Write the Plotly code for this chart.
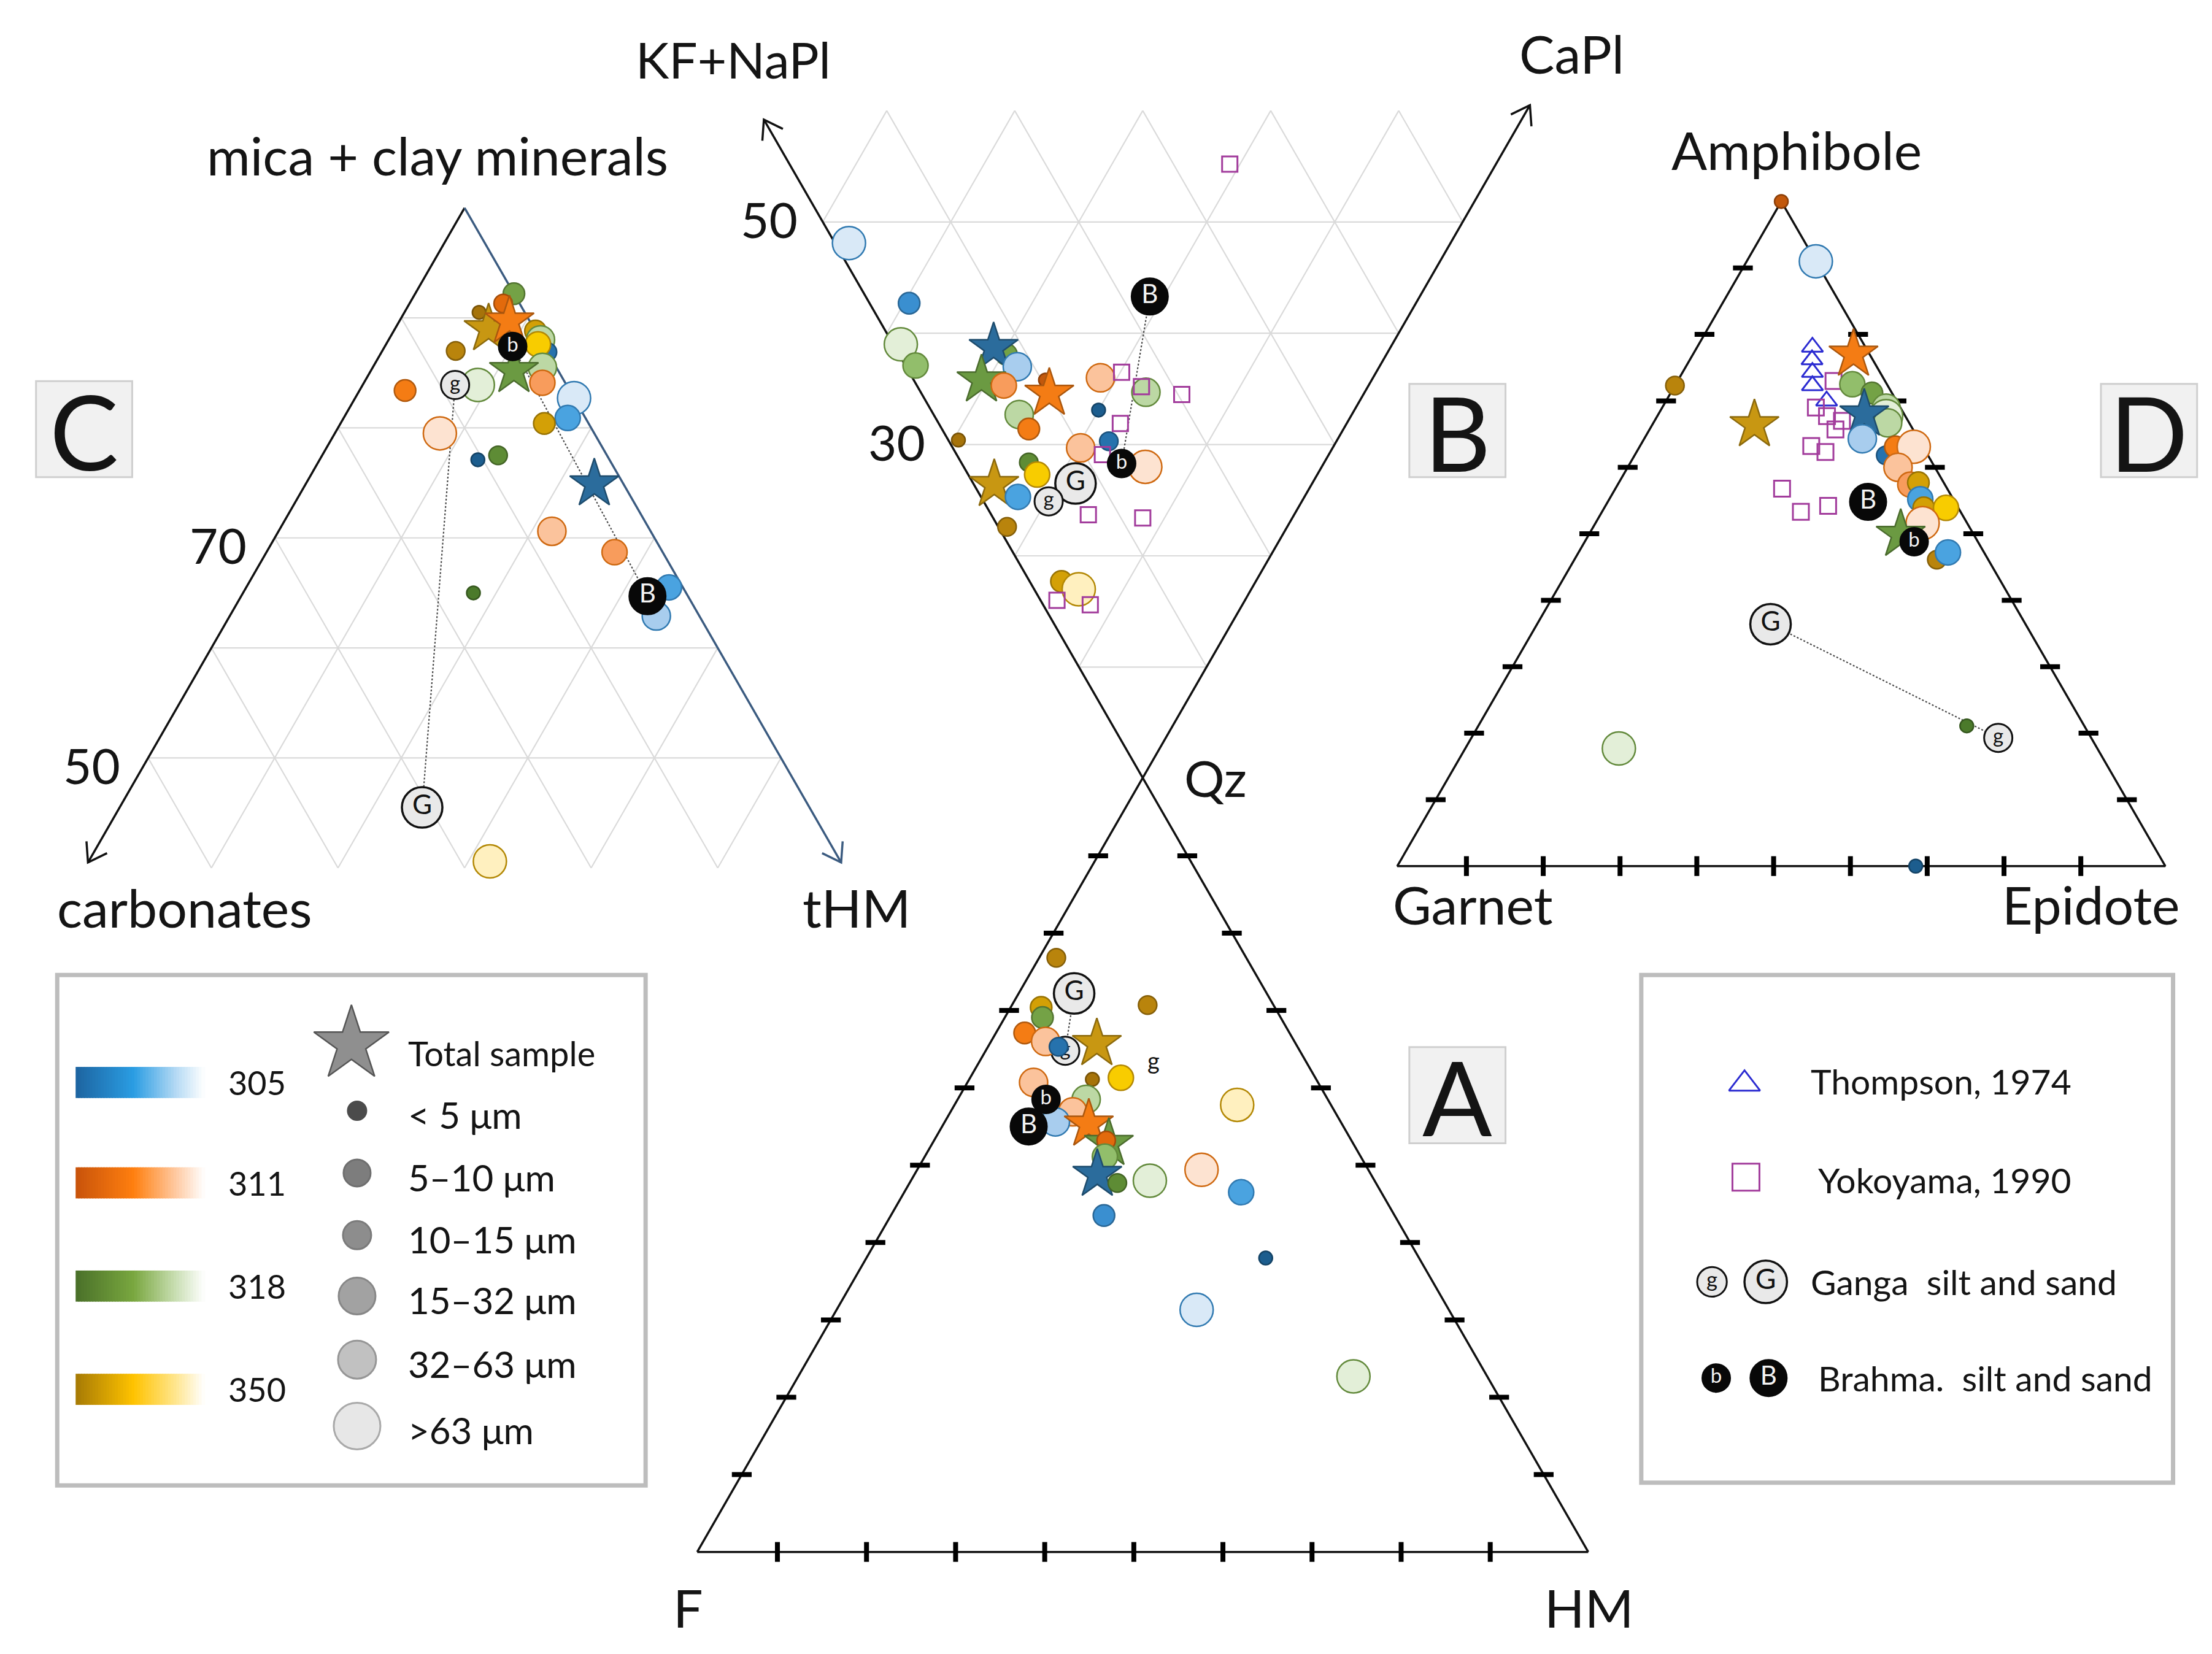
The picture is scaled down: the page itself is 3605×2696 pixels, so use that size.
import math
import plotly.graph_objects as go

# ------------------------------------------------------------------ data
# kind = "<sample>-<fraction>"; fraction 0:<5 µm 1:5-10 2:10-15 3:15-32 4:32-63 5:>63 µm ; T = total sample

# Panel C : mica + clay minerals (top) / carbonates (left) / tHM (right), %
C_kind = ["318-2", "350-0", "311-1", "350-T", "311-T", "350-2", "318-4", "305-1",
          "350-3", "318-4", "318-T", "311-3", "350-1", "318-5", "311-2", "311-5",
          "305-0", "318-1", "305-5", "305-3", "350-2", "305-T", "311-4", "311-3",
          "318-0", "305-3", "305-4", "350-5"]
C_mica = [92.2, 90.5, 91.3, 89.0, 89.7, 88.8, 88.0, 86.9, 87.6, 85.5, 85.2, 84.1,
          87.0, 83.9, 83.4, 79.5, 77.1, 77.5, 82.7, 80.9, 80.4, 74.9, 70.6, 68.7,
          65.0, 65.5, 62.9, 40.6]
C_carb = [0.0, 3.6, 1.3, 3.6, 1.6, 0.0, 0.0, 0.0, 0.4, 1.1, 3.5, 1.8,
          7.2, 7.0, 13.0, 12.2, 10.4, 8.6, 0.0, 1.4, 3.5, 2.3, 7.8, 3.8,
          16.8, 1.1, 3.4, 27.7]
C_thm = [7.8, 5.9, 7.4, 7.4, 8.7, 11.2, 12.0, 13.1, 12.0, 13.4, 11.3, 14.1,
         5.8, 9.1, 3.6, 8.3, 12.5, 13.9, 17.3, 17.7, 16.1, 22.8, 21.6, 27.5,
         18.2, 33.4, 33.7, 31.7]
C_lab_kind = ["g", "b", "B", "G"]
C_lab_mica = [83.9, 87.4, 64.7, 45.5]
C_lab_carb = [8.8, 2.5, 3.2, 30.6]
C_lab_thm = [7.3, 10.1, 32.1, 23.9]
C_links = [("g", "G"), ("b", "B")]

# Panel B : Qz (bottom) / KF+NaPl (left) / CaPl (right), %
B_kind = ["305-5", "305-2", "318-5", "318-3", "318-2", "305-T", "305-4", "318-T", "311-3",
          "311-0", "311-T", "311-4", "318-4", "305-0", "318-4", "311-2", "350-0", "311-4",
          "305-1", "311-5", "318-1", "350-3", "350-T", "305-3", "350-1", "350-2", "350-5"]
B_qz = [51.9, 57.3, 61.0, 62.9, 61.9, 61.3, 63.0, 64.2, 64.7, 64.2, 65.4, 64.0, 65.3, 66.9,
        67.3, 68.6, 69.6, 70.3, 69.7, 72.0, 71.6, 72.7, 73.6, 74.7, 77.4, 82.3, 83.0]
B_kf = [47.0, 39.6, 38.4, 36.3, 29.7, 31.0, 28.3, 30.5, 28.5, 25.5, 24.6, 21.3, 17.1, 20.0,
        26.0, 24.6, 29.6, 19.7, 17.8, 13.8, 23.1, 21.9, 24.8, 22.4, 21.9, 15.2, 13.5]
B_ca = [1.1, 3.1, 0.6, 0.8, 8.4, 7.7, 8.7, 5.3, 6.8, 10.3, 10.0, 14.7, 17.6, 13.1,
        6.7, 6.8, 0.8, 10.0, 12.5, 14.2, 5.3, 5.4, 1.6, 2.9, 0.7, 2.5, 3.5]
B_lab_kind = ["B", "b", "G", "g"]
B_lab_qz = [56.7, 71.7, 73.5, 75.1]
B_lab_kf = [21.1, 15.8, 18.5, 19.8]
B_lab_ca = [22.2, 12.5, 8.0, 5.1]
B_links = [("b", "B")]
B_yok_qz = [63.5, 64.8, 65.5, 68.1, 70.9, 76.3, 76.6, 84.0, 84.4, 44.8]
B_yok_kf = [19.9, 17.7, 14.2, 17.7, 17.7, 16.1, 11.7, 14.7, 11.9, 20.8]
B_yok_ca = [16.6, 17.5, 20.3, 14.2, 11.4, 7.6, 11.7, 1.3, 3.7, 34.4]

# Panel A : Qz (top) / F (left) / HM (right), %
A_kind = ["350-1", "350-2", "318-2", "350-1", "311-2", "311-4", "305-1", "350-T", "350-0",
          "350-3", "311-4", "318-4", "311-4", "305-4", "311-T", "318-T", "311-1", "318-3",
          "305-T", "318-1", "318-5", "311-5", "305-3", "350-5", "305-2", "305-0", "305-5", "318-5"]
A_qz = [76.8, 70.4, 69.1, 70.7, 67.1, 66.0, 65.3, 65.7, 61.1, 61.3, 60.7, 58.5, 56.9, 55.6,
        55.3, 52.8, 53.2, 51.1, 48.8, 47.7, 48.0, 49.4, 46.5, 57.8, 43.5, 38.0, 31.3, 22.7]
A_f = [21.3, 26.2, 26.7, 14.1, 29.7, 27.9, 26.8, 22.3, 25.1, 21.8, 31.9, 27.1, 29.4, 32.0,
       28.4, 27.4, 27.5, 28.7, 30.7, 29.0, 25.2, 18.7, 15.7, 10.5, 32.6, 17.2, 28.3, 15.0]
A_hm = [1.9, 3.4, 4.2, 15.2, 3.2, 6.1, 7.9, 12.0, 13.8, 16.9, 7.4, 14.4, 13.7, 12.4,
        16.3, 19.8, 19.3, 20.2, 20.5, 23.3, 26.8, 31.9, 37.8, 31.7, 23.9, 44.8, 40.4, 62.3]
A_under_kind = ["g"]
A_under_qz = [64.8]
A_under_f = [26.3]
A_under_hm = [8.9]
A_lab_kind = ["G", "b", "B"]
A_lab_qz = [72.2, 58.5, 55.0]
A_lab_f = [21.6, 31.6, 35.3]
A_lab_hm = [6.2, 9.9, 9.7]
A_links = [("G", "g")]
A_note_text = ["g"]
A_note_qz = [63.6]
A_note_f = [17.0]
A_note_hm = [19.4]

# Panel D : Amphibole (top) / Garnet (left) / Epidote (right), %
D_kind = ["311-0", "305-5", "350-1", "318-3", "318-2", "318-4", "318-5", "318-4", "305-T",
          "305-4", "311-T", "350-T", "305-1", "311-2", "311-5", "311-4", "311-3", "350-2",
          "305-3", "350-2", "350-3", "311-5", "318-T", "350-1", "305-3", "318-0", "318-5", "305-0"]
D_amp = [100.0, 91.0, 72.3, 72.5, 71.2, 68.9, 67.7, 66.7, 68.0, 64.3, 77.0, 66.4, 61.8, 63.1,
         63.1, 60.0, 57.4, 57.7, 55.2, 53.9, 53.9, 51.6, 49.9, 46.1, 47.2, 21.1, 17.7, 0.0]
D_gt = [0.0, 0.0, 27.7, 4.5, 2.6, 1.9, 2.5, 2.8, 5.2, 7.3, 2.1, 20.3, 5.5, 3.6,
        1.2, 4.8, 4.5, 3.3, 4.3, 4.5, 1.6, 5.8, 9.5, 6.7, 4.7, 15.3, 62.3, 32.5]
D_ep = [0.0, 9.0, 0.0, 23.0, 26.2, 29.2, 29.8, 30.5, 26.8, 28.4, 20.9, 13.3, 32.7, 33.3,
        35.7, 35.2, 38.1, 39.0, 40.5, 41.6, 44.5, 42.6, 40.6, 47.2, 48.1, 63.6, 20.0, 67.5]
D_lab_kind = ["B", "b", "G", "g"]
D_lab_amp = [54.8, 48.8, 36.4, 19.3]
D_lab_gt = [11.3, 8.3, 33.2, 12.1]
D_lab_ep = [33.9, 42.9, 30.4, 68.6]
D_links = [("G", "g")]
D_tho_amp = [78.1, 76.2, 74.3, 72.3, 70.0]
D_tho_gt = [6.9, 7.9, 8.8, 9.8, 9.1]
D_tho_ep = [15.0, 15.9, 16.9, 17.9, 20.9]
D_yok_amp = [73.0, 69.0, 67.7, 67.0, 65.7, 63.2, 62.3, 56.8, 53.3, 54.2]
D_yok_gt = [6.7, 11.0, 10.2, 8.6, 10.1, 14.5, 13.1, 21.5, 20.8, 16.8]
D_yok_ep = [20.3, 20.0, 22.1, 24.4, 24.2, 22.3, 24.6, 21.7, 25.9, 29.0]

# legend content
LEG_SAMPLES = ["305", "311", "318", "350"]
LEG_FRACTIONS = ["< 5 μm", "5–10 μm", "10–15 μm", "15–32 μm", "32–63 μm", ">63 μm"]
LEG_REFS = ["Thompson, 1974", "Yokoyama, 1990", "Ganga\u00a0 silt and sand", "Brahma.\u00a0 silt and sand"]

# ------------------------------------------------------------------ styling
FONT = "Lato, 'Open Sans', 'DejaVu Sans', sans-serif"
INK = "#141414"
W, H = 3605, 2696
XR = 1564.0
YR = H * XR / W          # uniform frame units (1 unit = 2.305 px)

PAL = {
    "305": ["#1c5d8e", "#2672ad", "#3a8fd0", "#4aa3e0", "#a8cdee", "#d9e9f7"],
    "311": ["#c2580c", "#e26a0c", "#f47c14", "#f89c5c", "#fbc39c", "#fde3d1"],
    "318": ["#4b7a2b", "#5e8c35", "#74a246", "#92be6b", "#bcd8a4", "#e3efd8"],
    "350": ["#a6730a", "#b9840c", "#d3a006", "#f8cc00", "#fde07c", "#fff0bf"],
}
STAR = {"305": "#2b6c9c", "311": "#f47c14", "318": "#6b9a42", "350": "#c89712"}
SIZES = [22, 30, 35, 41, 46, 54]
STAR_SIZE = 60
YOK_COL = "#a23c9c"
THO_COL = "#2b2bd1"
GRID_COL = "#dadada"


def hex2rgb(h):
    h = h.lstrip("#")
    return [int(h[i:i + 2], 16) for i in (0, 2, 4)]


def rgb2hex(c):
    return "#%02x%02x%02x" % tuple(max(0, min(255, int(round(v)))) for v in c)


def darker(h, f=0.75):
    return rgb2hex([v * f for v in hex2rgb(h)])


def mix(a, b, t):
    ca, cb = hex2rgb(a), hex2rgb(b)
    return rgb2hex([ca[i] + (cb[i] - ca[i]) * t for i in range(3)])


def style(kind):
    s, f = kind.split("-")
    if f == "T":
        return STAR[s], darker(STAR[s], 0.7), STAR_SIZE, "star"
    i = int(f)
    c = PAL[s][i]
    lc = darker(c, 0.72) if i < 3 else darker(PAL[s][2], 0.85)
    return c, lc, SIZES[i], "circle"


# triangle geometry in frame units: apex x, apex y, side length, height, direction
GEOM = {"C": (325.0, 143.5, 895.0, 778.0, 1),
        "B": (804.5, 547.0, 905.0, 787.0, -1),
        "A": (804.5, 547.0, 630.0, 547.0, 1),
        "D": (1256.0, 139.0, 543.0, 470.0, 1)}


def tern(panel, top, left, right):
    x0, y0, L, Hh, sg = GEOM[panel]
    xs, ys = [], []
    for t, l, r in zip(top, left, right):
        s = t + l + r
        t, l, r = t / s, l / s, r / s
        xs.append(x0 + (r - l) / 2.0 * L)
        ys.append(y0 + sg * (1.0 - t) * Hh)
    return xs, ys


def pt(panel, t, l, r):
    xs, ys = tern(panel, [t], [l], [r])
    return xs[0], ys[0]


fig = go.Figure()


def add_path(xs, ys, color, width, dash=None):
    fig.add_trace(go.Scatter(x=xs, y=ys, mode="lines", hoverinfo="skip", cliponaxis=False,
                             line=dict(color=color, width=width, dash=dash)))


def add_segments(segs, color, width):
    xs, ys = [], []
    for (xa, ya), (xb, yb) in segs:
        xs += [xa, xb, None]
        ys += [ya, yb, None]
    add_path(xs, ys, color, width)


def arrowhead(p_from, p_to, color, width, length=15.0, ang=34.0):
    dx, dy = p_to[0] - p_from[0], p_to[1] - p_from[1]
    n = math.hypot(dx, dy)
    ux, uy = dx / n, dy / n
    pts = []
    for sgn in (1, -1):
        a = math.radians(ang * sgn)
        rx = ux * math.cos(a) - uy * math.sin(a)
        ry = ux * math.sin(a) + uy * math.cos(a)
        pts.append((p_to[0] - length * rx, p_to[1] - length * ry))
    add_path([pts[0][0], p_to[0], pts[1][0]], [pts[0][1], p_to[1], pts[1][1]], color, width)


def grid(panel, lo=40):
    segs = []
    for k in range(10, 100 - lo, 10):
        segs.append((pt(panel, 100 - k, k, 0), pt(panel, 100 - k, 0, k)))
        segs.append((pt(panel, 100 - k, k, 0), pt(panel, lo, k, 100 - lo - k)))
        segs.append((pt(panel, 100 - k, 0, k), pt(panel, lo, 100 - lo - k, k)))
    add_segments(segs, GRID_COL, 2.2)


def ticks(panel, half=7.0, vhalf=7.0, base_shift=-1.0):
    segs = []
    for k in range(10, 100, 10):
        for (x, y) in (pt(panel, k, 100 - k, 0), pt(panel, k, 0, 100 - k)):
            segs.append(((x - half, y), (x + half, y)))
        x, y = pt(panel, 0, 100 - k - base_shift, k + base_shift)
        segs.append(((x, y - vhalf), (x, y + vhalf)))
    add_segments(segs, "#000000", 8)


def add_points(panel, kinds, t, l, r):
    xs, ys = tern(panel, t, l, r)
    st = [style(k) for k in kinds]
    fig.add_trace(go.Scatter(
        x=xs, y=ys, mode="markers", hoverinfo="skip", cliponaxis=False,
        marker=dict(color=[s[0] for s in st], size=[s[2] for s in st],
                    symbol=[s[3] for s in st],
                    line=dict(color=[s[1] for s in st], width=2.5), opacity=1)))


def add_open(panel, t, l, r, symbol, color, size):
    xs, ys = tern(panel, t, l, r)
    fig.add_trace(go.Scatter(x=xs, y=ys, mode="markers", hoverinfo="skip", cliponaxis=False,
                             marker=dict(symbol=symbol, size=size, color=color,
                                         line=dict(color=color, width=3))))


LET = {"G": dict(size=66, fill="#e9e9e9", line="#111111", lw=3.5, tcol="#111111", tsize=44),
       "g": dict(size=46, fill="#e9e9e9", line="#111111", lw=3.0, tcol="#111111", tsize=33),
       "B": dict(size=60, fill="#080808", line="#080808", lw=2.0, tcol="#f4f4f4", tsize=42),
       "b": dict(size=46, fill="#080808", line="#080808", lw=2.0, tcol="#f4f4f4", tsize=33)}


def letter_marker(x, y, k, scale=1.0):
    s = LET[k]
    fig.add_trace(go.Scatter(
        x=[x], y=[y], mode="markers+text", text=[k], textposition="middle center",
        textfont=dict(family=FONT, size=s["tsize"] * scale, color=s["tcol"]),
        hoverinfo="skip", cliponaxis=False,
        marker=dict(size=s["size"] * scale, color=s["fill"], line=dict(color=s["line"], width=s["lw"]))))


def add_letters(panel, kinds, t, l, r):
    xs, ys = tern(panel, t, l, r)
    for k, x, y in zip(kinds, xs, ys):
        letter_marker(x, y, k)


def add_links(panel, links, kinds, t, l, r):
    xs, ys = tern(panel, t, l, r)
    pos = {k: (x, y) for k, x, y in zip(kinds, xs, ys)}
    for a, b in links:
        add_path([pos[a][0], pos[b][0]], [pos[a][1], pos[b][1]], "#4a4a4a", 2.2, "dot")


def text(x, y, s, size, anchor="center", color=INK):
    fig.add_annotation(x=x, y=y, xref="x", yref="y", text=s, showarrow=False,
                       xanchor=anchor, yanchor="middle",
                       font=dict(family=FONT, size=size, color=color))


def panel_box(x0, y0, x1, y1, letter):
    fig.add_shape(type="rect", x0=x0, y0=y0, x1=x1, y1=y1, xref="x", yref="y",
                  line=dict(color="#cfcfcf", width=3), fillcolor="#f1f1f1", layer="below")
    text((x0 + x1) / 2, (y0 + y1) / 2 + 1, letter, 168)


LAB = 86

# ------------------------------------------------------------------ panel C
grid("C")
c_apex = pt("C", 100, 0, 0)
c_ltip = pt("C", 40.5, 59.5, 0)
c_rtip = pt("C", 40.5, 0, 59.5)
add_path([c_apex[0], c_ltip[0]], [c_apex[1], c_ltip[1]], "#111111", 3.5)
arrowhead(c_apex, c_ltip, "#111111", 3.5)
add_path([c_apex[0], c_rtip[0]], [c_apex[1], c_rtip[1]], "#3b5b80", 3.5)
arrowhead(c_apex, c_rtip, "#3b5b80", 3.5)
add_links("C", C_links, C_lab_kind, C_lab_mica, C_lab_carb, C_lab_thm)
add_points("C", C_kind, C_mica, C_carb, C_thm)
add_letters("C", C_lab_kind, C_lab_mica, C_lab_carb, C_lab_thm)
for v in (70, 50):
    x, y = pt("C", v, 100 - v, 0)
    text(x - 40, y + 5, str(v), 80)
text(306, 106, "mica + clay minerals", LAB)
text(127, 638, "carbonates", LAB)
text(602, 638, "tHM", LAB)
panel_box(22, 266, 90, 334, "C")

# ------------------------------------------------------------------ panels A & B
grid("B")
qz = pt("A", 100, 0, 0)
f_v = pt("A", 0, 100, 0)
hm_v = pt("A", 0, 0, 100)
ca_tip = pt("B", 39.5, 0, 60.5)
kf_tip = pt("B", 40.8, 59.2, 0)
add_path([f_v[0], qz[0], ca_tip[0]], [f_v[1], qz[1], ca_tip[1]], "#111111", 3.5)
add_path([hm_v[0], qz[0], kf_tip[0]], [hm_v[1], qz[1], kf_tip[1]], "#111111", 3.5)
add_path([f_v[0], hm_v[0]], [f_v[1], hm_v[1]], "#111111", 3.5)
arrowhead(qz, ca_tip, "#111111", 3.5)
arrowhead(qz, kf_tip, "#111111", 3.5)
ticks("A")

add_links("B", B_links, B_lab_kind, B_lab_qz, B_lab_kf, B_lab_ca)
add_points("B", B_kind, B_qz, B_kf, B_ca)
add_open("B", B_yok_qz, B_yok_kf, B_yok_ca, "square-open", YOK_COL, 25)
add_letters("B", B_lab_kind, B_lab_qz, B_lab_kf, B_lab_ca)
for v in (50, 30):
    x, y = pt("B", 100 - v, v, 0)
    text(x - 38, y - 2, str(v), 80)
text(515, 38, "KF+NaPl", 82)
text(1108, 34, "CaPl", LAB)
panel_box(993, 268, 1061, 334, "B")

add_links("A", A_links, A_lab_kind + A_under_kind, A_lab_qz + A_under_qz,
          A_lab_f + A_under_f, A_lab_hm + A_under_hm)
add_letters("A", A_under_kind, A_under_qz, A_under_f, A_under_hm)
add_points("A", A_kind, A_qz, A_f, A_hm)
add_letters("A", A_lab_kind, A_lab_qz, A_lab_f, A_lab_hm)
nx, ny = tern("A", A_note_qz, A_note_f, A_note_hm)
for s, x, y in zip(A_note_text, nx, ny):
    text(x, y, s, 38)
text(856, 546, "Qz", 82)
text(483, 1133, "F", LAB)
text(1120, 1133, "HM", LAB)
panel_box(993, 737, 1061, 805, "A")

# ------------------------------------------------------------------ panel D
d_a, d_g, d_e = pt("D", 100, 0, 0), pt("D", 0, 100, 0), pt("D", 0, 0, 100)
add_path([d_a[0], d_g[0], d_e[0], d_a[0]], [d_a[1], d_g[1], d_e[1], d_a[1]], "#111111", 3.5)
ticks("D")
add_links("D", D_links, D_lab_kind, D_lab_amp, D_lab_gt, D_lab_ep)
add_open("D", D_tho_amp, D_tho_gt, D_tho_ep, "triangle-up-open", THO_COL, 30)
add_open("D", D_yok_amp, D_yok_gt, D_yok_ep, "square-open", YOK_COL, 26)
add_points("D", D_kind, D_amp, D_gt, D_ep)
add_letters("D", D_lab_kind, D_lab_amp, D_lab_gt, D_lab_ep)
text(1267, 102, "Amphibole", LAB)
text(1038, 636, "Garnet", LAB)
text(1475, 636, "Epidote", LAB)
panel_box(1482, 268, 1550, 334, "D")

# ------------------------------------------------------------------ legend (left)
fig.add_shape(type="rect", x0=37, y0=686, x1=453, y1=1047, xref="x", yref="y",
              line=dict(color="#bdbdbd", width=7), fillcolor="#ffffff", layer="below")
GRAD = {
    "305": [(0.0, "#1d64a0"), (0.45, "#2a9de3"), (0.78, "#b5daf4"), (1.0, "#ffffff")],
    "311": [(0.0, "#c8530b"), (0.45, "#ff7f0f"), (0.78, "#ffcaa2"), (1.0, "#ffffff")],
    "318": [(0.0, "#4a7029"), (0.45, "#79a73f"), (0.78, "#cadfb4"), (1.0, "#ffffff")],
    "350": [(0.0, "#a67a05"), (0.45, "#ffc300"), (0.78, "#ffe690"), (1.0, "#ffffff")],
}


def grad_col(stops, t):
    for (t0, c0), (t1, c1) in zip(stops[:-1], stops[1:]):
        if t <= t1:
            return mix(c0, c1, (t - t0) / (t1 - t0))
    return stops[-1][1]


NSL = 46
for s, yc in zip(LEG_SAMPLES, [762, 833, 906, 979]):
    bx0, bx1 = 50.0, 141.0
    wsl = (bx1 - bx0) / NSL
    for i in range(NSL):
        fig.add_shape(type="rect", x0=bx0 + i * wsl, x1=bx0 + (i + 1) * wsl + 0.6,
                      y0=yc - 11, y1=yc + 11, xref="x", yref="y", line=dict(width=0),
                      fillcolor=grad_col(GRAD[s], (i + 0.5) / NSL))
    text(157, yc, s, 54, anchor="left")

fig.add_trace(go.Scatter(x=[245], y=[735], mode="markers", hoverinfo="skip", cliponaxis=False,
                         marker=dict(symbol="star", size=92, color="#8f8f8f",
                                     line=dict(color="#555555", width=2.5))))
text(284, 741, "Total sample", 56, anchor="left")
leg_y = [782, 826, 870, 913, 958, 1005]
leg_sz = [30, 44, 46, 60, 62, 76]
leg_c = ["#000000", "#474747", "#5e5e5e", "#7c7c7c", "#a8a8a8", "#dedede"]
leg_lc = ["#000000", "#333333", "#444444", "#555555", "#6a6a6a", "#858585"]
fig.add_trace(go.Scatter(x=[249] * 6, y=leg_y, mode="markers", hoverinfo="skip", cliponaxis=False,
                         marker=dict(size=leg_sz, color=leg_c, line=dict(color=leg_lc, width=3))))
for lab, y in zip(LEG_FRACTIONS, leg_y):
    text(284, y + 3, lab, 60, anchor="left")

# ------------------------------------------------------------------ legend (right)
fig.add_shape(type="rect", x0=1157, y0=686, x1=1533, y1=1045, xref="x", yref="y",
              line=dict(color="#bdbdbd", width=7), fillcolor="#ffffff", layer="below")
fig.add_trace(go.Scatter(x=[1230], y=[763], mode="markers", hoverinfo="skip", cliponaxis=False,
                         marker=dict(symbol="triangle-up-open", size=44, color=THO_COL,
                                     line=dict(color=THO_COL, width=3))))
fig.add_trace(go.Scatter(x=[1231], y=[829], mode="markers", hoverinfo="skip", cliponaxis=False,
                         marker=dict(symbol="square-open", size=44, color=YOK_COL,
                                     line=dict(color=YOK_COL, width=3))))
letter_marker(1207, 903, "g", 1.05)
letter_marker(1245, 903, "G", 1.05)
letter_marker(1210, 971, "b", 1.0)
letter_marker(1247, 971, "B", 1.0)
for lab, x, y in zip(LEG_REFS, [1276, 1281, 1276, 1281], [761, 831, 903, 971]):
    text(x, y, lab, 57, anchor="left")

# ------------------------------------------------------------------ layout
fig.update_layout(
    width=W, height=H, margin=dict(l=0, r=0, t=0, b=0),
    paper_bgcolor="#ffffff", plot_bgcolor="#ffffff", showlegend=False,
    hovermode=False,
    xaxis=dict(range=[0, XR], visible=False, fixedrange=True),
    yaxis=dict(range=[YR, 0], visible=False, fixedrange=True),
    font=dict(family=FONT, color=INK),
)
fig.write_html("out.html")
